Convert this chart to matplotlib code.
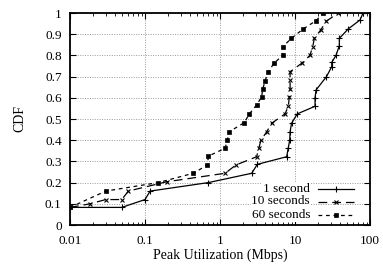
import matplotlib
matplotlib.use("Agg")
import matplotlib.pyplot as plt
from matplotlib.lines import Line2D
from matplotlib.ticker import LogLocator, NullFormatter

plt.rcParams['font.family'] = ['Liberation Serif', 'DejaVu Serif']

labels = ["1 second", "10 seconds", "60 seconds"]

x_1s = [0.01, 0.049, 0.1, 0.117, 0.70, 2.65, 3.14, 7.74, 8.15, 8.5, 8.6, 9.0,
        10.7, 18.5, 18.5, 19.1, 26.3, 30.9, 30.9, 35.2, 39.0, 39.0, 51.3, 73.6, 81.0]
y_1s = [0.083, 0.083, 0.12, 0.16, 0.20, 0.244, 0.286, 0.322, 0.365, 0.40, 0.44, 0.48,
        0.524, 0.56, 0.60, 0.637, 0.70, 0.747, 0.767, 0.80, 0.846, 0.88, 0.925, 0.967, 1.0]

x_10s = [0.01, 0.0185, 0.030, 0.049, 0.060, 0.195, 1.17, 1.63, 3.08, 3.31, 3.52, 4.2,
         4.89, 7.36, 8.15, 8.4, 8.6, 8.6, 8.6, 12.3, 15.8, 17.2, 18.1, 22.0, 26.3, 37.8]
y_10s = [0.083, 0.10, 0.12, 0.12, 0.16, 0.204, 0.244, 0.283, 0.322, 0.365, 0.40, 0.44,
         0.48, 0.524, 0.56, 0.605, 0.64, 0.684, 0.723, 0.763, 0.80, 0.84, 0.88, 0.92, 0.962, 1.0]

x_60s = [0.01, 0.030, 0.150, 0.44, 0.68, 0.70, 1.17, 1.25, 1.33, 2.11, 2.46, 3.08,
         3.59, 3.71, 3.98, 4.41, 5.25, 6.85, 6.85, 8.9, 12.9, 19.1, 23.9]
y_60s = [0.083, 0.16, 0.20, 0.244, 0.283, 0.325, 0.362, 0.40, 0.44, 0.483, 0.524, 0.566,
         0.605, 0.64, 0.679, 0.723, 0.763, 0.80, 0.84, 0.88, 0.925, 0.964, 1.0]

fig = plt.figure(figsize=(3.83, 2.67), dpi=100)
ax = fig.add_axes([70/383, 1-225/267, 300/383, 212/267])

styles = [
    dict(linestyle='-', marker='+', markersize=4, markeredgewidth=0.8),
    dict(linestyle=(0, (7, 4)), marker='x', markersize=3.2, markeredgewidth=0.8),
    dict(linestyle=(0, (3, 3)), marker='s', markersize=2.3, markeredgewidth=0.5),
]
series = [(x_1s, y_1s), (x_10s, y_10s), (x_60s, y_60s)]
for (xs, ys), st in zip(series, styles):
    ax.plot(xs, ys, color='black', linewidth=0.9, **st)

ax.set_xscale('log')
ax.set_xlim(0.01, 100)
ax.set_ylim(0, 1)
ax.set_xticks([0.01, 0.1, 1, 10, 100])
ax.set_xticklabels(["0.01", "0.1", "1", "10", "100"])
ax.xaxis.set_minor_locator(LogLocator(base=10, subs=range(2, 10)))
ax.xaxis.set_minor_formatter(NullFormatter())
yt = [i / 10 for i in range(11)]
ax.set_yticks(yt)
ax.set_yticklabels(["0", "0.1", "0.2", "0.3", "0.4", "0.5", "0.6", "0.7", "0.8", "0.9", "1"])
ax.tick_params(which='both', direction='in', top=True, right=True, labelsize=9.5)
ax.tick_params(axis='x', which='major', pad=7)
ax.tick_params(axis='y', which='major', pad=6)
ax.tick_params(which='major', length=4, width=0.8)
ax.tick_params(which='minor', length=2, width=0.6)
ax.grid(True, which='major', linestyle=(0, (1, 1.5)), color='#999999', linewidth=0.7)
for s in ax.spines.values():
    s.set_linewidth(1.3)

ax.set_xlabel("Peak Utilization (Mbps)", fontsize=10, labelpad=1)
ax.set_ylabel("CDF", fontsize=10, labelpad=13)

# gnuplot-style legend: right-aligned text, sample line to the right
ys_leg = [1 - (189 - 13) / 212, 1 - (201.5 - 13) / 212, 1 - (215 - 13) / 212]
tx = (310 - 70) / 300
lx0, lx1 = (318 - 70) / 300, (354 - 70) / 300
for lab, yl, st in zip(labels, ys_leg, styles):
    ax.text(tx, yl, lab, transform=ax.transAxes, ha='right', va='center', fontsize=9.5,
            bbox=dict(facecolor='white', edgecolor='none', pad=0.5))
    ln = Line2D([lx0, (lx0 + lx1) / 2, lx1], [yl, yl, yl], transform=ax.transAxes,
                color='black', linewidth=0.9, markevery=[1], **st)
    ax.add_line(ln)

fig.savefig("out.png", dpi=100)
